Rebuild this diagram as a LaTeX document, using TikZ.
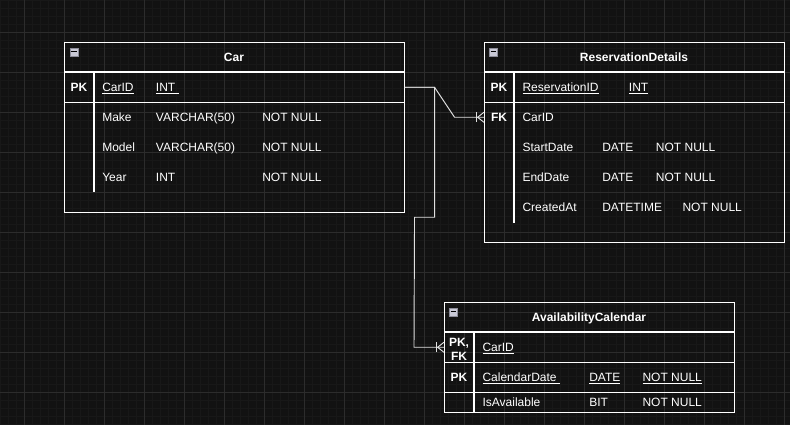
\documentclass[tikz,border=0pt]{standalone}
\usepackage{fontspec}
\setmainfont{Liberation Sans}
\definecolor{bg}{HTML}{121212}
\definecolor{gridminor}{HTML}{181818}
\definecolor{gridmajor}{HTML}{2C2C2C}
\definecolor{iconfill}{HTML}{C9C9D6}
\definecolor{iconborder}{HTML}{8C8C99}
\definecolor{connline}{HTML}{E0E0E0}
\begin{document}
\begin{tikzpicture}[x=0.75pt,y=-0.75pt,
  font=\fontsize{9pt}{10.5pt}\selectfont,
  every node/.style={text=white},
  tblbox/.style={draw=white, line width=0.85pt, rectangle, inner sep=0pt, anchor=north west},
  rowbox/.style={rectangle, inner sep=0pt, anchor=north west},
  sep/.style={draw=white, line width=0.85pt},
  conn/.style={draw=connline, line width=0.7pt},
  txt/.style={anchor=base west, inner sep=0pt},
  ctxt/.style={anchor=base, inner sep=0pt, font=\fontsize{9pt}{10.5pt}\selectfont\bfseries},
  ttl/.style={anchor=base, inner sep=0pt, font=\fontsize{9pt}{10.5pt}\selectfont\bfseries},
  icon/.style={draw=iconborder, fill=iconfill, line width=0.5pt, rectangle, inner sep=0pt, minimum width=6pt, minimum height=6pt, anchor=north west}
]
% background and grid
\fill[bg] (0,0) rectangle (790,425);
\useasboundingbox (0,0) rectangle (790,425);
\foreach \x in {0,8,...,784} \draw[gridminor, line width=0.5pt] (\x,0) -- (\x,425);
\foreach \y in {0,8,...,424} \draw[gridminor, line width=0.5pt] (0,\y) -- (790,\y);
\foreach \x in {24,64,...,784} \draw[gridmajor, line width=0.6pt] (\x,0) -- (\x,425);
\foreach \y in {32,72,...,424} \draw[gridmajor, line width=0.6pt] (0,\y) -- (790,\y);

% ===== Car =====
\node[tblbox, minimum width=255pt, minimum height=127.5pt] (car) at (64,42) {};
\node[rowbox, minimum width=255pt, minimum height=22.5pt] (carpk) at (64,72) {};
\draw[sep] (carpk.north west) -- (carpk.north east);
\draw[sep] (carpk.south west) -- (carpk.south east);
\draw[sep] (94,72) -- (94,192);
\node[icon] (caricon) at (69.5,47.5) {};
\draw[black, line width=0.8pt] ([xshift=1.2pt]caricon.west) -- ([xshift=-1.2pt]caricon.east);
\node[ttl] (cartitle) at (234,61) {Car};
\node[ctxt] (carpkl) at (79,91.3) {PK};
\node[txt] (carid) at (102,91.3) {\underline{CarID}};
\node[txt] (caridt) at (155.7,91.3) {\underline{INT\ }};
\node[txt] (make) at (102,121.3) {Make};
\node[txt] (maket) at (155.7,121.3) {VARCHAR(50)};
\node[txt] (makenn) at (262,121.3) {NOT NULL};
\node[txt] (model) at (102,151.3) {Model};
\node[txt] (modelt) at (155.7,151.3) {VARCHAR(50)};
\node[txt] (modelnn) at (262,151.3) {NOT NULL};
\node[txt] (year) at (102,181.3) {Year};
\node[txt] (yeart) at (155.7,181.3) {INT};
\node[txt] (yearnn) at (262,181.3) {NOT NULL};

% ===== ReservationDetails =====
\node[tblbox, minimum width=225pt, minimum height=150pt] (res) at (484,42) {};
\node[rowbox, minimum width=225pt, minimum height=22.5pt] (respk) at (484,72) {};
\node[rowbox, minimum width=225pt, minimum height=22.5pt] (resfk) at (484,102) {};
\draw[sep] (respk.north west) -- (respk.north east);
\draw[sep] (respk.south west) -- (respk.south east);
\draw[sep] (514,72) -- (514,222.7);
\node[icon] (resicon) at (489.3,47.5) {};
\draw[black, line width=0.8pt] ([xshift=1.2pt]resicon.west) -- ([xshift=-1.2pt]resicon.east);
\node[ttl] (restitle) at (634,61) {ReservationDetails};
\node[ctxt] (respkl) at (499,91.3) {PK};
\node[txt] (resid) at (522.3,91.3) {\underline{ReservationID}};
\node[txt] (residt) at (628.7,91.3) {\underline{INT}};
\node[ctxt] (resfkl) at (499,121.3) {FK};
\node[txt] (rescar) at (522.3,121.3) {CarID};
\node[txt] (sd) at (522.3,151.3) {StartDate};
\node[txt] (sdt) at (602,151.3) {DATE};
\node[txt] (sdnn) at (655.7,151.3) {NOT NULL};
\node[txt] (ed) at (522.3,181.3) {EndDate};
\node[txt] (edt) at (602,181.3) {DATE};
\node[txt] (ednn) at (655.7,181.3) {NOT NULL};
\node[txt] (ca) at (522.3,211.3) {CreatedAt};
\node[txt] (cat) at (602,211.3) {DATETIME};
\node[txt] (cann) at (682.3,211.3) {NOT NULL};

% ===== AvailabilityCalendar =====
\node[tblbox, minimum width=217.5pt, minimum height=82.5pt] (av) at (444,302) {};
\node[rowbox, minimum width=217.5pt, minimum height=22.5pt] (avcar) at (444,332) {};
\node[rowbox, minimum width=217.5pt, minimum height=22.5pt] (avdate) at (444,362) {};
\draw[sep] (avcar.north west) -- (avcar.north east);
\draw[sep] (avcar.south west) -- (avcar.south east);
\draw[sep] (avdate.south west) -- (avdate.south east);
\draw[sep] (474,332) -- (474,412);
\node[icon] (avicon) at (449.3,307.5) {};
\draw[black, line width=0.8pt] ([xshift=1.2pt]avicon.west) -- ([xshift=-1.2pt]avicon.east);
\node[ttl] (avtitle) at (589,321.3) {AvailabilityCalendar};
\node[ctxt] (avpk1) at (459,346.6) {PK,};
\node[ctxt] (avfk1) at (459,360.2) {FK};
\node[txt] (avcarid) at (482.3,351.3) {\underline{CarID}};
\node[ctxt] (avpk2) at (459,381.3) {PK};
\node[txt] (avcd) at (482.3,381.3) {\underline{CalendarDate\ }};
\node[txt] (avcdt) at (589,381.3) {\underline{DATE}};
\node[txt] (avcdnn) at (642.3,381.3) {\underline{NOT NULL}};
\node[txt] (avia) at (482.3,406) {IsAvailable};
\node[txt] (aviat) at (589,406) {BIT};
\node[txt] (avian) at (642.3,406) {NOT NULL};

% ===== connectors =====
\draw[conn] (carpk.east) -- ++(30,0) -- ++(20,30) -- (resfk.west);
\draw[conn] ([xshift=-5.6pt,yshift=-3.6pt]resfk.west) -- ([xshift=-5.6pt,yshift=3.6pt]resfk.west);
\draw[conn] ([yshift=-3.8pt]resfk.west) -- ([xshift=-4.8pt]resfk.west) -- ([yshift=3.8pt]resfk.west);

\draw[conn] (carpk.east) -- ++(30,0) -- ++(0,130) -- ++(-20,0) -- ([xshift=-22.5pt]avcar.west) -- (avcar.west);
\draw[conn] ([xshift=-5.6pt,yshift=-3.6pt]avcar.west) -- ([xshift=-5.6pt,yshift=3.6pt]avcar.west);
\draw[conn] ([yshift=-3.8pt]avcar.west) -- ([xshift=-4.8pt]avcar.west) -- ([yshift=3.8pt]avcar.west);
\end{tikzpicture}
\end{document}
